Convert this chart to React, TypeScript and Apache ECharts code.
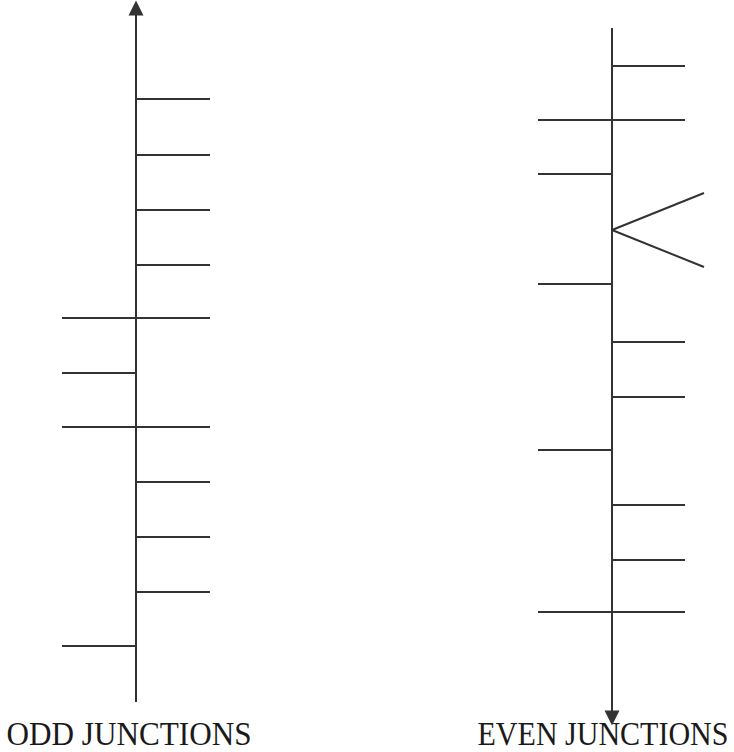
import React, { useEffect, useRef } from "react";
import * as echarts from "echarts";

// Diagram coordinates (pixel-like units of the reference picture)
const oddStemX = 136;
const oddStemRange = [702, 8]; // bottom -> arrow (top)
const oddRightTicks = [99, 155, 210, 265, 318, 427, 482, 537, 592];
const oddLeftTicks = [318, 373, 427, 646];

const evenStemX = 612;
const evenStemRange = [28, 718]; // top -> arrow (bottom)
const evenRightTicks = [66, 120, 342, 397, 505, 560, 612];
const evenLeftTicks = [120, 174, 284, 450, 612];
const evenForkY = [230];
const forkSpread = [193, 267];

const tickLenRight = 74;
const tickLenLeft = 74;
const forkLen = 92;

const labels = ["ODD JUNCTIONS", "EVEN JUNCTIONS"];

export default function App() {
  const ref = useRef<HTMLDivElement>(null);
  useEffect(() => {
    document.body.style.margin = "0";
    const chart = echarts.init(ref.current!, null, { renderer: "svg" });
    const segs: any[] = [];
    oddRightTicks.forEach((y) => segs.push({ coords: [[oddStemX, y], [oddStemX + tickLenRight, y]] }));
    oddLeftTicks.forEach((y) => segs.push({ coords: [[oddStemX - tickLenLeft, y], [oddStemX, y]] }));
    evenRightTicks.forEach((y) => segs.push({ coords: [[evenStemX, y], [evenStemX + tickLenRight - 1, y]] }));
    evenLeftTicks.forEach((y) => segs.push({ coords: [[evenStemX - tickLenLeft, y], [evenStemX, y]] }));
    evenForkY.forEach((y) => {
      segs.push({ coords: [[evenStemX, y], [evenStemX + forkLen, forkSpread[0]]] });
      segs.push({ coords: [[evenStemX, y], [evenStemX + forkLen, forkSpread[1]]] });
    });
    const lineColor = "#333333";
    const textStyle = {
      fontFamily: "Liberation Serif",
      fontSize: 33,
      fill: "#1a1a1a",
      textAlign: "center",
      textVerticalAlign: "middle",
    };
    chart.setOption({
      animation: false,
      backgroundColor: "#ffffff",
      grid: { left: 0, right: 0, top: 0, bottom: 0 },
      xAxis: { type: "value", min: 0, max: 734, show: false },
      yAxis: { type: "value", min: 0, max: 752, inverse: true, show: false },
      series: [
        {
          type: "lines",
          coordinateSystem: "cartesian2d",
          symbol: ["none", "none"],
          lineStyle: { color: lineColor, width: 2, opacity: 1 },
          data: segs,
        },
        {
          type: "lines",
          coordinateSystem: "cartesian2d",
          symbol: ["none", "triangle"],
          symbolSize: [10, 15],
          lineStyle: { color: lineColor, width: 2, opacity: 1 },
          itemStyle: { color: "#000" },
          data: [
            { coords: [[oddStemX, oddStemRange[0]], [oddStemX, oddStemRange[1]]] },
            { coords: [[evenStemX, evenStemRange[0]], [evenStemX, evenStemRange[1]]] },
          ],
        },
      ],
      graphic: [
        {
          type: "text",
          x: 129,
          y: 734,
          scaleX: 0.945,
          style: { ...textStyle, text: labels[0] },
        },
        {
          type: "text",
          x: 603,
          y: 734,
          scaleX: 0.91,
          style: { ...textStyle, text: labels[1] },
        },
      ],
    });
    return () => chart.dispose();
  }, []);
  return <div ref={ref} style={{ width: 734, height: 752 }} />;
}
